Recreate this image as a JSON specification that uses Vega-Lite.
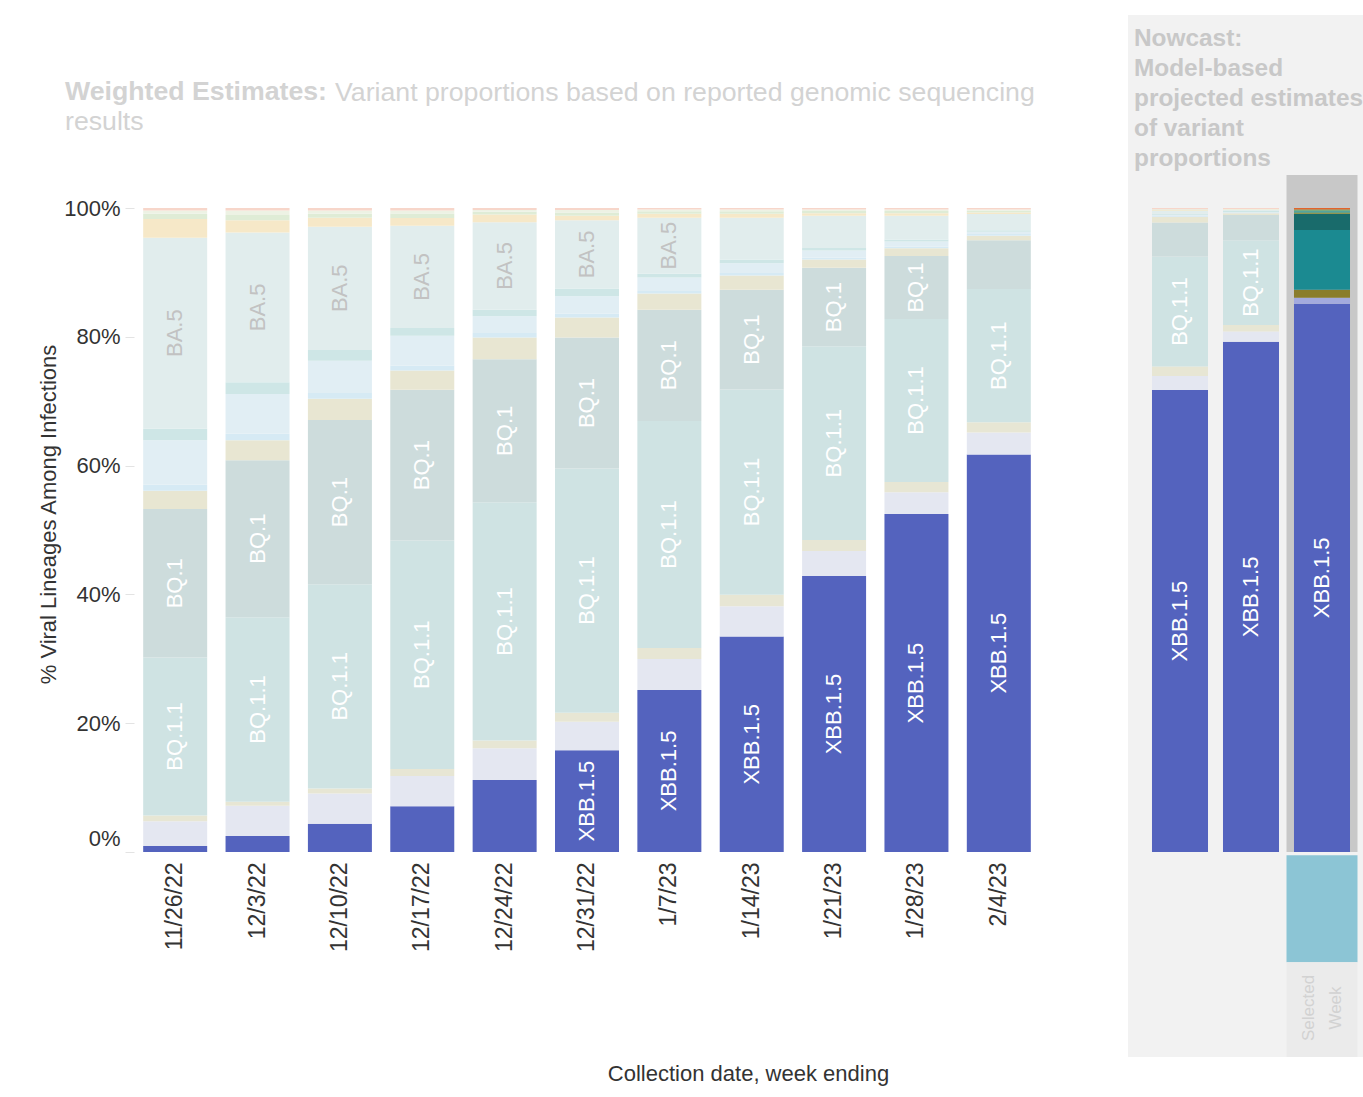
{
  "$schema": "https://vega.github.io/schema/vega-lite/v6.json",
  "autosize": {"type": "pad"},
  "padding": {"left": 37, "top": 15, "right": 0, "bottom": 5},
  "bounds": "flush",
  "spacing": 88,
  "background": "white",
  "config": {"view": {"stroke": null}, "font": "Liberation Sans"},
  "title": {
    "text": "Variant proportions based on reported genomic sequencing",
    "anchor": "start",
    "frame": "group",
    "orient": "top",
    "dx": 201,
    "offset": -91.5,
    "baseline": "top",
    "font": "Liberation Sans",
    "fontSize": 26.7,
    "fontWeight": "normal",
    "color": "#d3d3d3"
  },
  "resolve": {"scale": {"x": "independent", "y": "independent", "color": "shared"}},
  "datasets": {
    "variants": [
      {"type":"weighted","week":"11/26/22","variant":"XBB.1.5","pct":0.95},
      {"type":"weighted","week":"11/26/22","variant":"XBB","pct":3.8},
      {"type":"weighted","week":"11/26/22","variant":"CH.1.1","pct":0.9},
      {"type":"weighted","week":"11/26/22","variant":"BQ.1.1","pct":24.5},
      {"type":"weighted","week":"11/26/22","variant":"BQ.1","pct":23.0},
      {"type":"weighted","week":"11/26/22","variant":"BF.7","pct":2.85},
      {"type":"weighted","week":"11/26/22","variant":"BF.11","pct":0.9},
      {"type":"weighted","week":"11/26/22","variant":"BA.5.2.6","pct":6.9},
      {"type":"weighted","week":"11/26/22","variant":"BA.4.6","pct":1.8},
      {"type":"weighted","week":"11/26/22","variant":"BA.5","pct":29.6},
      {"type":"weighted","week":"11/26/22","variant":"BA.2.75","pct":2.9},
      {"type":"weighted","week":"11/26/22","variant":"BN.1","pct":0.8},
      {"type":"weighted","week":"11/26/22","variant":"BA.2","pct":0.5},
      {"type":"weighted","week":"11/26/22","variant":"Other","pct":0.4},

      {"type":"weighted","week":"12/3/22","variant":"XBB.1.5","pct":2.5},
      {"type":"weighted","week":"12/3/22","variant":"XBB","pct":4.7},
      {"type":"weighted","week":"12/3/22","variant":"CH.1.1","pct":0.6},
      {"type":"weighted","week":"12/3/22","variant":"BQ.1.1","pct":28.7},
      {"type":"weighted","week":"12/3/22","variant":"BQ.1","pct":24.4},
      {"type":"weighted","week":"12/3/22","variant":"BF.7","pct":3.1},
      {"type":"weighted","week":"12/3/22","variant":"BF.11","pct":1.0},
      {"type":"weighted","week":"12/3/22","variant":"BA.5.2.6","pct":6.2},
      {"type":"weighted","week":"12/3/22","variant":"BA.4.6","pct":1.8},
      {"type":"weighted","week":"12/3/22","variant":"BA.5","pct":23.3},
      {"type":"weighted","week":"12/3/22","variant":"BA.2.75","pct":1.9},
      {"type":"weighted","week":"12/3/22","variant":"BN.1","pct":0.8},
      {"type":"weighted","week":"12/3/22","variant":"BA.2","pct":0.7},
      {"type":"weighted","week":"12/3/22","variant":"Other","pct":0.4},

      {"type":"weighted","week":"12/10/22","variant":"XBB.1.5","pct":4.4},
      {"type":"weighted","week":"12/10/22","variant":"XBB","pct":4.7},
      {"type":"weighted","week":"12/10/22","variant":"CH.1.1","pct":0.8},
      {"type":"weighted","week":"12/10/22","variant":"BQ.1.1","pct":31.8},
      {"type":"weighted","week":"12/10/22","variant":"BQ.1","pct":25.6},
      {"type":"weighted","week":"12/10/22","variant":"BF.7","pct":3.3},
      {"type":"weighted","week":"12/10/22","variant":"BF.11","pct":0.9},
      {"type":"weighted","week":"12/10/22","variant":"BA.5.2.6","pct":5.0},
      {"type":"weighted","week":"12/10/22","variant":"BA.4.6","pct":1.7},
      {"type":"weighted","week":"12/10/22","variant":"BA.5","pct":19.2},
      {"type":"weighted","week":"12/10/22","variant":"BA.2.75","pct":1.4},
      {"type":"weighted","week":"12/10/22","variant":"BN.1","pct":0.6},
      {"type":"weighted","week":"12/10/22","variant":"BA.2","pct":0.5},
      {"type":"weighted","week":"12/10/22","variant":"Other","pct":0.4},

      {"type":"weighted","week":"12/17/22","variant":"XBB.1.5","pct":7.1},
      {"type":"weighted","week":"12/17/22","variant":"XBB","pct":4.7},
      {"type":"weighted","week":"12/17/22","variant":"CH.1.1","pct":1.1},
      {"type":"weighted","week":"12/17/22","variant":"BQ.1.1","pct":35.5},
      {"type":"weighted","week":"12/17/22","variant":"BQ.1","pct":23.4},
      {"type":"weighted","week":"12/17/22","variant":"BF.7","pct":3.0},
      {"type":"weighted","week":"12/17/22","variant":"BF.11","pct":0.8},
      {"type":"weighted","week":"12/17/22","variant":"BA.5.2.6","pct":4.6},
      {"type":"weighted","week":"12/17/22","variant":"BA.4.6","pct":1.2},
      {"type":"weighted","week":"12/17/22","variant":"BA.5","pct":15.9},
      {"type":"weighted","week":"12/17/22","variant":"BA.2.75","pct":1.2},
      {"type":"weighted","week":"12/17/22","variant":"BN.1","pct":0.7},
      {"type":"weighted","week":"12/17/22","variant":"BA.2","pct":0.45},
      {"type":"weighted","week":"12/17/22","variant":"Other","pct":0.4},

      {"type":"weighted","week":"12/24/22","variant":"XBB.1.5","pct":11.2},
      {"type":"weighted","week":"12/24/22","variant":"XBB","pct":4.9},
      {"type":"weighted","week":"12/24/22","variant":"CH.1.1","pct":1.2},
      {"type":"weighted","week":"12/24/22","variant":"BQ.1.1","pct":37.0},
      {"type":"weighted","week":"12/24/22","variant":"BQ.1","pct":22.2},
      {"type":"weighted","week":"12/24/22","variant":"BF.7","pct":3.4},
      {"type":"weighted","week":"12/24/22","variant":"BF.11","pct":0.7},
      {"type":"weighted","week":"12/24/22","variant":"BA.5.2.6","pct":2.6},
      {"type":"weighted","week":"12/24/22","variant":"BA.4.6","pct":1.0},
      {"type":"weighted","week":"12/24/22","variant":"BA.5","pct":13.6},
      {"type":"weighted","week":"12/24/22","variant":"BA.2.75","pct":1.2},
      {"type":"weighted","week":"12/24/22","variant":"BN.1","pct":0.4},
      {"type":"weighted","week":"12/24/22","variant":"BA.2","pct":0.3},
      {"type":"weighted","week":"12/24/22","variant":"Other","pct":0.3},

      {"type":"weighted","week":"12/31/22","variant":"XBB.1.5","pct":15.8},
      {"type":"weighted","week":"12/31/22","variant":"XBB","pct":4.4},
      {"type":"weighted","week":"12/31/22","variant":"CH.1.1","pct":1.4},
      {"type":"weighted","week":"12/31/22","variant":"BQ.1.1","pct":37.9},
      {"type":"weighted","week":"12/31/22","variant":"BQ.1","pct":20.3},
      {"type":"weighted","week":"12/31/22","variant":"BF.7","pct":3.1},
      {"type":"weighted","week":"12/31/22","variant":"BF.11","pct":0.6},
      {"type":"weighted","week":"12/31/22","variant":"BA.5.2.6","pct":2.7},
      {"type":"weighted","week":"12/31/22","variant":"BA.4.6","pct":1.2},
      {"type":"weighted","week":"12/31/22","variant":"BA.5","pct":10.6},
      {"type":"weighted","week":"12/31/22","variant":"BA.2.75","pct":0.7},
      {"type":"weighted","week":"12/31/22","variant":"BN.1","pct":0.5},
      {"type":"weighted","week":"12/31/22","variant":"BA.2","pct":0.4},
      {"type":"weighted","week":"12/31/22","variant":"Other","pct":0.3},

      {"type":"weighted","week":"1/7/23","variant":"XBB.1.5","pct":25.2},
      {"type":"weighted","week":"1/7/23","variant":"XBB","pct":4.8},
      {"type":"weighted","week":"1/7/23","variant":"CH.1.1","pct":1.7},
      {"type":"weighted","week":"1/7/23","variant":"BQ.1.1","pct":35.3},
      {"type":"weighted","week":"1/7/23","variant":"BQ.1","pct":17.3},
      {"type":"weighted","week":"1/7/23","variant":"BF.7","pct":2.5},
      {"type":"weighted","week":"1/7/23","variant":"BF.11","pct":0.4},
      {"type":"weighted","week":"1/7/23","variant":"BA.5.2.6","pct":2.1},
      {"type":"weighted","week":"1/7/23","variant":"BA.4.6","pct":0.6},
      {"type":"weighted","week":"1/7/23","variant":"BA.5","pct":8.7},
      {"type":"weighted","week":"1/7/23","variant":"BA.2.75","pct":0.6},
      {"type":"weighted","week":"1/7/23","variant":"BN.1","pct":0.4},
      {"type":"weighted","week":"1/7/23","variant":"BA.2","pct":0.25},
      {"type":"weighted","week":"1/7/23","variant":"Other","pct":0.25},

      {"type":"weighted","week":"1/14/23","variant":"XBB.1.5","pct":33.5},
      {"type":"weighted","week":"1/14/23","variant":"XBB","pct":4.7},
      {"type":"weighted","week":"1/14/23","variant":"CH.1.1","pct":1.8},
      {"type":"weighted","week":"1/14/23","variant":"BQ.1.1","pct":31.9},
      {"type":"weighted","week":"1/14/23","variant":"BQ.1","pct":15.5},
      {"type":"weighted","week":"1/14/23","variant":"BF.7","pct":2.2},
      {"type":"weighted","week":"1/14/23","variant":"BF.11","pct":0.4},
      {"type":"weighted","week":"1/14/23","variant":"BA.5.2.6","pct":1.5},
      {"type":"weighted","week":"1/14/23","variant":"BA.4.6","pct":0.6},
      {"type":"weighted","week":"1/14/23","variant":"BA.5","pct":6.5},
      {"type":"weighted","week":"1/14/23","variant":"BA.2.75","pct":0.6},
      {"type":"weighted","week":"1/14/23","variant":"BN.1","pct":0.4},
      {"type":"weighted","week":"1/14/23","variant":"BA.2","pct":0.25},
      {"type":"weighted","week":"1/14/23","variant":"Other","pct":0.25},

      {"type":"weighted","week":"1/21/23","variant":"XBB.1.5","pct":42.9},
      {"type":"weighted","week":"1/21/23","variant":"XBB","pct":3.9},
      {"type":"weighted","week":"1/21/23","variant":"CH.1.1","pct":1.7},
      {"type":"weighted","week":"1/21/23","variant":"BQ.1.1","pct":30.1},
      {"type":"weighted","week":"1/21/23","variant":"BQ.1","pct":12.2},
      {"type":"weighted","week":"1/21/23","variant":"BF.7","pct":1.3},
      {"type":"weighted","week":"1/21/23","variant":"BF.11","pct":0.3},
      {"type":"weighted","week":"1/21/23","variant":"BA.5.2.6","pct":1.1},
      {"type":"weighted","week":"1/21/23","variant":"BA.4.6","pct":0.4},
      {"type":"weighted","week":"1/21/23","variant":"BA.5","pct":5.0},
      {"type":"weighted","week":"1/21/23","variant":"BA.2.75","pct":0.4},
      {"type":"weighted","week":"1/21/23","variant":"BN.1","pct":0.35},
      {"type":"weighted","week":"1/21/23","variant":"BA.2","pct":0.2},
      {"type":"weighted","week":"1/21/23","variant":"Other","pct":0.25},

      {"type":"weighted","week":"1/28/23","variant":"XBB.1.5","pct":52.5},
      {"type":"weighted","week":"1/28/23","variant":"XBB","pct":3.4},
      {"type":"weighted","week":"1/28/23","variant":"CH.1.1","pct":1.6},
      {"type":"weighted","week":"1/28/23","variant":"BQ.1.1","pct":25.3},
      {"type":"weighted","week":"1/28/23","variant":"BQ.1","pct":9.8},
      {"type":"weighted","week":"1/28/23","variant":"BF.7","pct":1.2},
      {"type":"weighted","week":"1/28/23","variant":"BF.11","pct":0.25},
      {"type":"weighted","week":"1/28/23","variant":"BA.5.2.6","pct":0.8},
      {"type":"weighted","week":"1/28/23","variant":"BA.4.6","pct":0.3},
      {"type":"weighted","week":"1/28/23","variant":"BA.5","pct":3.7},
      {"type":"weighted","week":"1/28/23","variant":"BA.2.75","pct":0.4},
      {"type":"weighted","week":"1/28/23","variant":"BN.1","pct":0.35},
      {"type":"weighted","week":"1/28/23","variant":"BA.2","pct":0.2},
      {"type":"weighted","week":"1/28/23","variant":"Other","pct":0.25},

      {"type":"weighted","week":"2/4/23","variant":"XBB.1.5","pct":61.8},
      {"type":"weighted","week":"2/4/23","variant":"XBB","pct":3.4},
      {"type":"weighted","week":"2/4/23","variant":"CH.1.1","pct":1.6},
      {"type":"weighted","week":"2/4/23","variant":"BQ.1.1","pct":20.7},
      {"type":"weighted","week":"2/4/23","variant":"BQ.1","pct":7.6},
      {"type":"weighted","week":"2/4/23","variant":"BF.7","pct":0.7},
      {"type":"weighted","week":"2/4/23","variant":"BF.11","pct":0.25},
      {"type":"weighted","week":"2/4/23","variant":"BA.5.2.6","pct":0.35},
      {"type":"weighted","week":"2/4/23","variant":"BA.4.6","pct":0.25},
      {"type":"weighted","week":"2/4/23","variant":"BA.5","pct":2.5},
      {"type":"weighted","week":"2/4/23","variant":"BA.2.75","pct":0.25},
      {"type":"weighted","week":"2/4/23","variant":"BN.1","pct":0.3},
      {"type":"weighted","week":"2/4/23","variant":"BA.2","pct":0.15},
      {"type":"weighted","week":"2/4/23","variant":"Other","pct":0.25},

      {"type":"nowcast","week":"2/11/23","variant":"XBB.1.5","pct":71.8},
      {"type":"nowcast","week":"2/11/23","variant":"XBB","pct":2.2},
      {"type":"nowcast","week":"2/11/23","variant":"CH.1.1","pct":1.45},
      {"type":"nowcast","week":"2/11/23","variant":"BQ.1.1","pct":17.1},
      {"type":"nowcast","week":"2/11/23","variant":"BQ.1","pct":5.3},
      {"type":"nowcast","week":"2/11/23","variant":"BF.7","pct":0.9},
      {"type":"nowcast","week":"2/11/23","variant":"BF.11","pct":0.1},
      {"type":"nowcast","week":"2/11/23","variant":"BA.5.2.6","pct":0.2},
      {"type":"nowcast","week":"2/11/23","variant":"BA.4.6","pct":0.15},
      {"type":"nowcast","week":"2/11/23","variant":"BA.5","pct":0.45},
      {"type":"nowcast","week":"2/11/23","variant":"BA.2.75","pct":0.1},
      {"type":"nowcast","week":"2/11/23","variant":"BN.1","pct":0.1},
      {"type":"nowcast","week":"2/11/23","variant":"BA.2","pct":0.05},
      {"type":"nowcast","week":"2/11/23","variant":"Other","pct":0.2},

      {"type":"nowcast","week":"2/18/23","variant":"XBB.1.5","pct":79.3},
      {"type":"nowcast","week":"2/18/23","variant":"XBB","pct":1.6},
      {"type":"nowcast","week":"2/18/23","variant":"CH.1.1","pct":1.0},
      {"type":"nowcast","week":"2/18/23","variant":"BQ.1.1","pct":13.2},
      {"type":"nowcast","week":"2/18/23","variant":"BQ.1","pct":3.9},
      {"type":"nowcast","week":"2/18/23","variant":"BF.7","pct":0.3},
      {"type":"nowcast","week":"2/18/23","variant":"BF.11","pct":0.05},
      {"type":"nowcast","week":"2/18/23","variant":"BA.5.2.6","pct":0.1},
      {"type":"nowcast","week":"2/18/23","variant":"BA.4.6","pct":0.25},
      {"type":"nowcast","week":"2/18/23","variant":"BA.5","pct":0.1},
      {"type":"nowcast","week":"2/18/23","variant":"BA.2.75","pct":0.05},
      {"type":"nowcast","week":"2/18/23","variant":"BN.1","pct":0.05},
      {"type":"nowcast","week":"2/18/23","variant":"BA.2","pct":0.05},
      {"type":"nowcast","week":"2/18/23","variant":"Other","pct":0.15},

      {"type":"nowcast","week":"2/25/23","variant":"XBB.1.5","pct":85.2},
      {"type":"nowcast","week":"2/25/23","variant":"XBB","pct":0.93},
      {"type":"nowcast","week":"2/25/23","variant":"CH.1.1","pct":1.24},
      {"type":"nowcast","week":"2/25/23","variant":"BQ.1.1","pct":9.3},
      {"type":"nowcast","week":"2/25/23","variant":"BQ.1","pct":2.5},
      {"type":"nowcast","week":"2/25/23","variant":"BF.7","pct":0.2},
      {"type":"nowcast","week":"2/25/23","variant":"BA.4.6","pct":0.2},
      {"type":"nowcast","week":"2/25/23","variant":"BA.5","pct":0.1},
      {"type":"nowcast","week":"2/25/23","variant":"BN.1","pct":0.15},
      {"type":"nowcast","week":"2/25/23","variant":"Other","pct":0.25}
    ]
  },
  "data": {"name": "variants"},
  "hconcat": [
    {
      "width": 906,
      "height": 1042,
      "title": {
        "text": "Weighted Estimates:",
        "subtitle": "results",
        "anchor": "start",
        "frame": "group",
        "orient": "top",
        "dx": -69,
        "offset": -121,
        "baseline": "top",
        "font": "Liberation Sans",
        "fontSize": 26.7,
        "fontWeight": "bold",
        "color": "#d3d3d3",
        "subtitleFont": "Liberation Sans",
        "subtitleFontSize": 26.7,
        "subtitleFontWeight": "normal",
        "subtitleColor": "#d3d3d3",
        "subtitlePadding": 3.3
      },
      "transform": [
        {"filter": "datum.type == 'weighted'"},
        {"calculate": "indexof(['XBB.1.5','XBB','CH.1.1','BQ.1.1','BQ.1','BF.7','BF.11','BA.5.2.6','BA.4.6','BA.5','BA.2.75','BN.1','BA.2','Other'], datum.variant)", "as": "rank"},
        {"calculate": "datum.variant == 'XBB.1.5' ? datum.variant : datum.variant + '~'", "as": "key"}
      ],
      "layer": [
        {
          "mark": {"type": "bar", "width": {"band": 0.777}},
          "encoding": {
            "x": {
              "field": "week", "type": "ordinal",
              "scale": {"domain": ["11/26/22","12/3/22","12/10/22","12/17/22","12/24/22","12/31/22","1/7/23","1/14/23","1/21/23","1/28/23","2/4/23"], "paddingInner": 0, "paddingOuter": 0},
              "axis": {
                "orient": "bottom", "offset": -205, "labelAngle": 270, "labelAlign": "right", "labelBaseline": "middle",
                "labelFontSize": 23, "labelColor": "#333333", "labelPadding": 10, "ticks": false, "tickSize": 0, "domain": false,
                "title": "Collection date, week ending", "titleFontSize": 22, "titleFontWeight": "normal", "titleColor": "#333333",
                "titleX": 614, "titleY": 221, "titleBaseline": "middle", "titleAlign": "center"
              }
            },
            "y": {
              "field": "pct", "type": "quantitative", "stack": "normalize",
              "title": "% Viral Lineages Among Infections",
              "scale": {"domain": [-0.3183, 1.2997], "nice": false, "zero": false},
              "axis": {
                "values": [0, 0.2, 0.4, 0.6, 0.8, 1], "format": ".0%", "labelFontSize": 22, "labelColor": "#333333",
                "domain": false, "ticks": true, "tickColor": "#e3e3e3", "tickSize": 9, "labelPadding": 5, "grid": false,
                "labelOffset": {"condition": {"test": "datum.value == 0", "value": -14}, "value": 0},
                "title": "% Viral Lineages Among Infections", "titleFontSize": 22, "titleFontWeight": "normal", "titleColor": "#333333",
                "titleX": -74, "titleY": 499, "titleAngle": 270, "titleBaseline": "bottom", "titleAlign": "center"
              }
            },
            "color": {
              "field": "key", "type": "nominal", "legend": null,
              "scale": {
                "domain": ["XBB.1.5","XBB","CH.1.1","BQ.1.1","BQ.1","BF.7","BF.11","BA.5.2.6","BA.4.6","BA.5","BA.2.75","BN.1","BA.2","Other","XBB~","CH.1.1~","BQ.1.1~","BQ.1~","BF.7~","BF.11~","BA.5.2.6~","BA.4.6~","BA.5~","BA.2.75~","BN.1~","BA.2~","Other~"],
                "range": ["#5463be","#a3aade","#8a7d2b","#1b8a91","#196b6b","#8f8c30","#4ba2d4","#6db2d2","#22998f","#6fa3a3","#dea43a","#5aa14a","#98c07e","#e2642c","#e4e7f1","#e7e6d4","#cfe3e3","#cddcdc","#e8e6d2","#d6eaf4","#e1eef4","#cee6e6","#e1eded","#f6e8c8","#dfecd6","#edf2e4","#f7d6ca"]
              }
            },
            "order": {"field": "rank", "type": "quantitative", "sort": "ascending"}
          }
        },
        {
          "transform": [
            {"stack": "pct", "groupby": ["week"], "sort": [{"field": "rank", "order": "ascending"}], "offset": "normalize", "as": ["s0", "s1"]},
            {"calculate": "(datum.s0 + datum.s1) / 2", "as": "mid"},
            {"filter": "(datum.variant == 'BA.5' && datum.pct >= 8) || (datum.variant == 'BQ.1' && datum.pct >= 8) || (datum.variant == 'BQ.1.1' && datum.pct >= 11.5) || (datum.variant == 'XBB.1.5' && datum.pct >= 13)"}
          ],
          "mark": {"type": "text", "angle": 270, "fontSize": 22, "align": "center", "baseline": "middle"},
          "encoding": {
            "x": {"field": "week", "type": "ordinal"},
            "y": {"field": "mid", "type": "quantitative", "title": "% Viral Lineages Among Infections"},
            "text": {"field": "variant"},
            "color": {"condition": {"test": "datum.variant == 'BA.5'", "value": "#c2c2c2"}, "value": "#ffffff"}
          }
        }
      ]
    },
    {
      "width": 235,
      "height": 1042,
      "view": {"fill": "#f2f2f2", "stroke": null},
      "title": {
        "text": ["Nowcast:", "Model-based", "projected estimates", "of variant", "proportions"],
        "anchor": "start",
        "frame": "group",
        "orient": "top",
        "dx": 6,
        "offset": -156,
        "baseline": "top",
        "font": "Liberation Sans",
        "fontSize": 24.4,
        "fontWeight": "bold",
        "color": "#c8c8c8",
        "lineHeight": 30
      },
      "transform": [
        {"filter": "datum.type == 'nowcast'"},
        {"calculate": "indexof(['XBB.1.5','XBB','CH.1.1','BQ.1.1','BQ.1','BF.7','BF.11','BA.5.2.6','BA.4.6','BA.5','BA.2.75','BN.1','BA.2','Other'], datum.variant)", "as": "rank"},
        {"calculate": "datum.week == '2/25/23' || datum.variant == 'XBB.1.5' ? datum.variant : datum.variant + '~'", "as": "key"}
      ],
      "layer": [
        {
          "data": {"values": [{}]},
          "mark": {"type": "rect", "color": "#c8c8c8"},
          "encoding": {
            "x": {"datum": "2/25/23", "type": "ordinal", "axis": null},
            "y": {"datum": 0, "type": "quantitative", "axis": null},
            "y2": {"datum": 1.0512}
          }
        },
        {
          "data": {"values": [{}]},
          "mark": {"type": "rect", "color": "#8cc5d5"},
          "encoding": {
            "x": {"datum": "2/25/23", "type": "ordinal", "axis": null},
            "y": {"datum": -0.005, "type": "quantitative", "axis": null},
            "y2": {"datum": -0.171}
          }
        },
        {
          "data": {"values": [{}]},
          "mark": {"type": "rect", "color": "#ebebeb"},
          "encoding": {
            "x": {"datum": "2/25/23", "type": "ordinal", "axis": null},
            "y": {"datum": -0.171, "type": "quantitative", "axis": null},
            "y2": {"datum": -0.3183}
          }
        },
        {
          "mark": {"type": "bar", "width": {"band": 0.789}},
          "encoding": {
            "x": {
              "field": "week", "type": "ordinal",
              "scale": {"domain": ["2/11/23","2/18/23","2/25/23"], "paddingInner": 0, "paddingOuter": 0.1549, "align": 0.75},
              "axis": {
                "orient": "bottom", "offset": -205, "labelAngle": 270, "labelAlign": "right", "labelBaseline": "middle",
                "labelFontSize": 23, "labelColor": "#333333", "labelPadding": 10, "ticks": false, "tickSize": 0, "domain": false,
                "title": null, "zindex": 1
              }
            },
            "y": {
              "field": "pct", "type": "quantitative", "stack": "normalize",
              "scale": {"domain": [-0.3183, 1.2997], "nice": false, "zero": false},
              "axis": null
            },
            "color": {"field": "key", "type": "nominal", "legend": null},
            "order": {"field": "rank", "type": "quantitative", "sort": "ascending"}
          }
        },
        {
          "transform": [
            {"stack": "pct", "groupby": ["week"], "sort": [{"field": "rank", "order": "ascending"}], "offset": "normalize", "as": ["s0", "s1"]},
            {"calculate": "(datum.s0 + datum.s1) / 2", "as": "mid"},
            {"filter": "(datum.variant == 'BA.5' && datum.pct >= 8) || (datum.variant == 'BQ.1' && datum.pct >= 8) || (datum.variant == 'BQ.1.1' && datum.pct >= 11.5) || (datum.variant == 'XBB.1.5' && datum.pct >= 13)"}
          ],
          "mark": {"type": "text", "angle": 270, "fontSize": 22, "align": "center", "baseline": "middle"},
          "encoding": {
            "x": {"field": "week", "type": "ordinal"},
            "y": {"field": "mid", "type": "quantitative", "axis": null},
            "text": {"field": "variant"},
            "color": {"value": "#ffffff"}
          }
        },
        {
          "data": {"values": [{}]},
          "mark": {"type": "text", "text": ["Selected", "Week"], "angle": 270, "fontSize": 17, "color": "#d2d2d2", "lineHeight": 27, "align": "center", "baseline": "middle", "dy": -13},
          "encoding": {
            "x": {"datum": "2/25/23", "type": "ordinal", "axis": null},
            "y": {"datum": -0.2422, "type": "quantitative", "axis": null}
          }
        }
      ]
    }
  ]
}
